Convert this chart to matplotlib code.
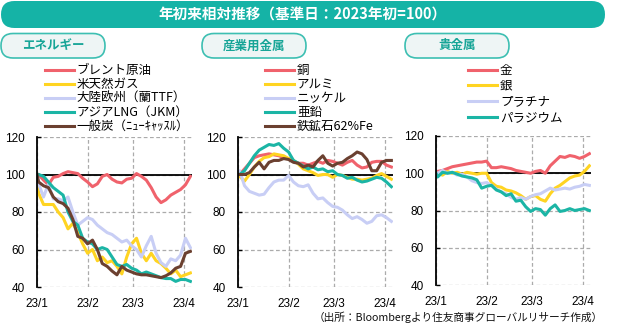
import matplotlib
matplotlib.use('Agg')
import matplotlib.pyplot as plt
import pandas as pd
from matplotlib.patches import FancyBboxPatch

plt.rcParams['font.family'] = ['Noto Sans CJK JP', 'DejaVu Sans']

# ---------------- data ----------------
dates = pd.to_datetime(['2023-01-01']).append(pd.date_range('2023-01-02', periods=32, freq='3D'))

energy_labels = ['ブレント原油', '米天然ガス', '大陸欧州（蘭TTF）', 'アジアLNG（JKM）', '一般炭（ﾆｭｰｷｬｯｽﾙ）']
brent = [100, 100, 97, 94.5, 98.5, 99, 100.5, 101.5, 101, 100.5, 98,
         96, 93.5, 95, 99, 100, 97.5, 96, 95.5, 97.5, 98,
         100.5, 99, 97, 93, 88, 85, 86.5, 89, 90.5, 92,
         94.5, 99]
us_gas = [100, 90, 84, 84, 84, 80, 77, 71, 74, 69, 63,
          58, 60, 54, 56, 53, 54, 51, 47, 56, 63,
          66, 58, 54, 58, 54, 52.5, 50, 47, 49, 45.5,
          46.5, 47.5]
ttf = [100, 95, 88, 95, 87, 87, 86, 88, 80, 73, 75,
       77, 76, 73, 71, 69, 68, 66, 64, 65, 62,
       60, 56, 62, 67, 58, 53, 51, 55, 54, 57,
       66, 61]
jkm = [100, 100, 99, 96, 93, 91, 89, 80, 75, 73, 66,
       64, 63, 60, 61, 60, 56, 52, 51, 52, 50,
       49, 47, 48, 47, 46, 45, 44.5, 44.5, 43, 44,
       44, 43]
coal = [100, 96, 94, 93, 88, 85.5, 84.5, 82, 76, 67, 66,
        63, 65, 60, 52.5, 51, 48.5, 46.5, 51, 49, 48,
        47, 46.5, 46.5, 46, 45.5, 45, 46, 47.5, 50, 51,
        58, 59]

metal_labels = ['銅', 'アルミ', 'ニッケル', '亜鉛', '鉄鉱石62%Fe']
copper = [100, 100, 103, 106, 109, 110, 110.5, 111, 110.5, 110, 109,
          108.5, 107, 106, 106, 105, 106, 107, 106, 107.5, 107,
          106, 105, 106.5, 107.5, 105, 103.5, 104, 106.5, 107, 107,
          105, 104]
alu = [100, 99, 96.5, 100, 104, 107, 109, 109.5, 111, 110.5, 110,
       108.5, 107.5, 105.5, 103, 102, 101, 99.5, 100, 100, 98.5,
       100, 99.5, 98.5, 97.5, 97.5, 97, 97.5, 98, 99.5, 100.5,
       99, 97.5]
nickel = [100, 102, 94, 91, 90, 89, 89.5, 93, 96, 97, 97,
          99.5, 96, 94, 93.5, 94.5, 90, 87, 87.5, 85, 83,
          82.5, 81, 78.5, 76.5, 77.5, 76, 74, 75, 78, 78.5,
          77, 75]
zinc = [100, 100, 102, 106, 110, 113, 114.5, 116, 115.5, 116.5, 114,
        112, 107.5, 106, 104.5, 103, 104, 102.5, 103, 101.5, 102,
        100, 99.5, 98, 98.5, 97, 96, 96.5, 97.5, 98.5, 98,
        96, 93.5]
iron_ore = [100, 100, 100, 101, 104, 106.5, 103, 106.5, 107.5, 107.5, 108.5,
            108, 106.5, 106, 104, 105, 104, 107.5, 110, 106, 104.5,
            106, 106.5, 108.5, 110, 112, 111, 108, 102, 102, 106.5,
            107.5, 107.5]

precious_labels = ['金', '銀', 'プラチナ', 'パラジウム']
gold = [100, 101, 101.5, 102.5, 103.5, 104, 104.5, 105, 105.5, 106, 106,
        106.5, 103, 103, 103.5, 103, 102.5, 101.5, 101, 100.5, 100,
        101, 101.5, 100, 104, 106.5, 109, 108.5, 109.5, 109, 108,
        109, 110.5]
silver = [100, 100, 99, 101, 100, 100.5, 99.5, 100.5, 100, 99.5, 100,
          100, 95, 93, 92.5, 91, 90.5, 89.5, 88, 86, 87.5,
          88, 86, 85, 89, 92, 93.5, 95.5, 97.5, 98.5, 99,
          101, 104]
platinum = [100, 100, 101.5, 100, 100.5, 99, 99.5, 98, 96, 95, 94.5,
            95, 93.5, 91.5, 90, 89, 87, 86, 87, 86, 87.5,
            88.5, 89, 90.5, 92, 91, 91.5, 92, 91.5, 92.5, 93,
            94, 93.5]
palladium = [100, 98, 100.5, 100, 100.5, 99.5, 98.5, 98, 97.5, 96.5, 92,
             93, 93.5, 91, 90, 88, 89, 85, 85.5, 82, 79.5,
             81, 80.5, 77.5, 81, 83, 79.5, 80, 81, 80, 80.5,
             81, 80]

tick_dates = pd.to_datetime(['2023-01-01', '2023-02-01', '2023-03-01', '2023-04-01'])
tick_labels = ['23/1', '23/2', '23/3', '23/4']
y_ticks = [40, 60, 80, 100, 120]

title = '年初来相対推移（基準日：2023年初=100）'
group_titles = ['エネルギー', '産業用金属', '貴金属']
source = '（出所：Bloombergより住友商事グローバルリサーチ作成）'

colors5 = ['#F0626C', '#FFD422', '#C8CEF5', '#1BB5A5', '#6B4030']

# ---------------- figure ----------------
W, H = 618, 331
fig = plt.figure(figsize=(W / 100, H / 100), dpi=100)

bg = fig.add_axes([0, 0, 1, 1])
bg.set_xlim(0, W)
bg.set_ylim(H, 0)
bg.axis('off')

teal = '#15B3A6'
bg.add_patch(FancyBboxPatch((1, 1), 604, 27, boxstyle='round,pad=0,rounding_size=13.5',
                            fc=teal, ec='none'))
bg.text(303, 15, title, color='white', fontsize=10.5, fontweight='bold',
        ha='center', va='center')
for (px, txt) in zip([1, 202, 405], group_titles):
    bg.add_patch(FancyBboxPatch((px, 33.5), 104, 24.5, boxstyle='round,pad=0,rounding_size=12',
                                fc='#EEF5F5', ec='#3DBFB2', lw=1.2))
    bg.text(px + 52, 46, txt, color='#17A597', fontsize=9, fontweight='bold',
            ha='center', va='center')
bg.text(603, 317, source, fontsize=7.7, ha='right', va='center', color='#111111')


def px_rect(x0, y_top, w, h):
    return [x0 / W, 1 - (y_top + h) / H, w / W, h / H]


def style(ax):
    ax.set_facecolor('none')
    ax.set_ylim(40, 120)
    ax.set_yticks(y_ticks)
    ax.set_xlim(pd.Timestamp('2023-01-01'), pd.Timestamp('2023-04-06'))
    ax.set_xticks(tick_dates)
    ax.set_xticklabels(tick_labels, fontfamily='Liberation Sans', fontsize=8.5)
    ax.set_yticklabels([str(v) for v in y_ticks], fontfamily='Liberation Sans', fontsize=8.5)
    ax.grid(True, ls=(0, (3, 2)), color='#ABABAB', lw=0.9)
    ax.set_axisbelow(True)
    for s in ['top', 'right', 'bottom']:
        ax.spines[s].set_visible(False)
    ax.spines['left'].set_color('black')
    ax.spines['left'].set_linewidth(1.3)
    ax.axhline(100, color='black', lw=1.3, zorder=1.5)
    ax.tick_params(axis='y', direction='in', length=3, width=1, pad=9, colors='black')
    ax.tick_params(axis='x', length=0, pad=8, colors='black')


panels = [
    (px_rect(37, 137, 155, 150), [brent, us_gas, ttf, jkm, coal], energy_labels, colors5, 45, 64, 0.08),
    (px_rect(238, 137, 155, 150), [copper, alu, nickel, zinc, iron_ore], metal_labels, colors5, 265, 64, 0.08),
    (px_rect(436, 136, 155, 149), [gold, silver, platinum, palladium], precious_labels,
     [colors5[0], colors5[1], colors5[2], colors5[3]], 468, 64, 0.22),
]

for rect, series, labels, cols, lx, ly, lsp in panels:
    ax = fig.add_axes(rect)
    for vals, lab, c in zip(series, labels, cols):
        ax.plot(dates, vals, color=c, lw=2.2, label=lab, solid_joinstyle='round')
    style(ax)
    ax.legend(loc='upper left', bbox_to_anchor=(lx / W, 1 - ly / H), bbox_transform=fig.transFigure,
              frameon=False, fontsize=9, handlelength=2.3, handletextpad=0.25,
              labelspacing=lsp, borderpad=0, borderaxespad=0)

fig.savefig('out.png', dpi=100)
